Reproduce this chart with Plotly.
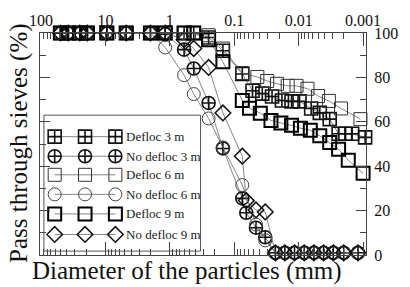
import plotly.graph_objects as go

# ---------------- data ----------------
sieve = [50, 37.5, 25, 19, 9.5, 4.75, 2.0, 1.18, 0.6, 0.425, 0.25, 0.15, 0.075]

defloc3_d = sieve + [0.052, 0.0367, 0.0259, 0.0182, 0.0129, 0.0097, 0.0064, 0.0047,
                     0.0033, 0.0024, 0.0019, 0.00148, 0.00093]
defloc3_p = [100, 100, 100, 100, 100, 100, 100, 100, 100, 100, 98, 92, 81.5,
             74, 72.7, 71.4, 69.6, 69.2, 69.2, 66, 64, 61.2, 54.6, 54.6, 54.6, 53]

nodefloc3_d = sieve + [0.065, 0.046, 0.033, 0.023, 0.0164, 0.0116, 0.0082, 0.0058,
                       0.0041, 0.0029, 0.0020, 0.0012]
nodefloc3_p = [100, 100, 100, 100, 100, 100, 100, 99.5, 92.5, 84, 68.5, 48, 25.5,
               19, 12.3, 8, 1, 1, 1, 1, 1, 1, 1, 1, 1]

defloc6_d = sieve + [0.0438, 0.0308, 0.0217, 0.0148, 0.0108, 0.0073, 0.0050, 0.0034,
                     0.0022, 0.0011]
defloc6_p = [100, 100, 100, 100, 100, 100, 100, 100, 100, 100, 99, 93, 82,
             80.2, 78.4, 77.1, 76.2, 76.2, 74.9, 71.6, 69.4, 66, 61.2]

nodefloc6_d = sieve + [0.046, 0.033, 0.023, 0.0164, 0.0116, 0.0082, 0.0058,
                       0.0041, 0.0029, 0.0020, 0.0012]
nodefloc6_p = [100, 100, 100, 100, 100, 100, 100, 93.5, 81, 72.5, 61.5, 48.5, 31.5,
               13.7, 6.6, 1, 1, 1, 1, 1, 1, 1, 1, 1]

defloc9_d = sieve + [0.058, 0.0394, 0.0269, 0.0189, 0.0129, 0.0094, 0.0066, 0.0047,
                     0.0033, 0.0024, 0.0017, 0.0010]
defloc9_p = [100, 100, 100, 100, 100, 100, 100, 100, 100, 100, 97, 87, 69.6,
             66.1, 63.9, 60.6, 59.5, 58.4, 57.1, 56.2, 53.7, 50.7, 47.6, 42.7, 36.8]

nodefloc9_d = sieve + [0.065, 0.046, 0.033, 0.023, 0.0164, 0.0116, 0.0082, 0.0058,
                       0.0041, 0.0029, 0.0020, 0.0012]
nodefloc9_p = [100, 100, 100, 100, 100, 100, 100, 100, 97, 93, 84.5, 64, 44.5,
               24.5, 20.3, 19.4, 1, 1, 1, 1, 1, 1, 1, 1, 1]

series_names = ["Defloc 3 m", "No defloc 3 m", "Defloc 6 m",
                "No defloc 6 m", "Defloc 9 m", "No defloc 9 m"]
x_ticks = [100, 10, 1, 0.1, 0.01, 0.001]
x_ticktext = ["100", "10", "1", "0.1", "0.01", "0.001"]

# ---------------- styles ----------------
FONT = "Times New Roman, Liberation Serif, DejaVu Serif, serif"
styles = [
    dict(symbol="square-cross-open", size=13, color="#111", width=1.6),
    dict(symbol="circle-cross-open", size=13, color="#111", width=1.6),
    dict(symbol="square-open", size=13, color="#333", width=1.0),
    dict(symbol="circle-open", size=13, color="#444", width=1.0),
    dict(symbol="square-open", size=13, color="#000", width=2.0),
    dict(symbol="diamond-open", size=12, color="#111", width=1.5),
]
datasets = [(defloc3_d, defloc3_p), (nodefloc3_d, nodefloc3_p),
            (defloc6_d, defloc6_p), (nodefloc6_d, nodefloc6_p),
            (defloc9_d, defloc9_p), (nodefloc9_d, nodefloc9_p)]

fig = go.Figure()
for name, (d, p), st in zip(series_names, datasets, styles):
    fig.add_trace(go.Scatter(
        x=d, y=p, name=name, mode="lines+markers", cliponaxis=False,
        line=dict(color="#666", width=0.8),
        marker=dict(symbol=st["symbol"], size=st["size"], color=st["color"],
                    line=dict(color=st["color"], width=st["width"])),
        showlegend=False))

# ---------------- custom legend (pixel-like overlay axes) ----------------
L, R, T, B = 40, 373, 28, 255
row_y = [134, 154, 173, 193, 213, 234]
sample_x = [55, 86, 117]
for name, st, ry in zip(series_names, styles, row_y):
    fig.add_trace(go.Scatter(
        x=sample_x, y=[ry] * 3, xaxis="x2", yaxis="y2", mode="lines+markers",
        cliponaxis=False, showlegend=False, hoverinfo="skip",
        line=dict(color="#666", width=0.8),
        marker=dict(symbol=st["symbol"], size=st["size"], color=st["color"],
                    line=dict(color=st["color"], width=st["width"]))))
    fig.add_annotation(x=126, y=ry, xref="x2", yref="y2", text=name,
                       showarrow=False, xanchor="left", yanchor="middle",
                       font=dict(family=FONT, size=13, color="#222"))

fig.add_shape(type="rect", xref="x2", yref="y2", x0=44, x1=204, y0=112, y1=251,
              line=dict(color="#555", width=1), fillcolor="white", layer="below")

minor_x = [m * 10 ** e for e in range(-4, 3) for m in range(2, 10)]

axis_col = "#444"
fig.update_layout(
    width=410, height=287,
    margin=dict(l=L, r=410 - R, t=T, b=287 - B),
    paper_bgcolor="white", plot_bgcolor="white",
    font=dict(family=FONT, color="#111"),
    xaxis=dict(type="log", range=[2.015, -3.045], side="top",
               tickmode="array", tickvals=x_ticks, ticktext=x_ticktext,
               ticks="inside", ticklen=13, tickwidth=1, tickcolor=axis_col,
               showline=True, linecolor=axis_col, linewidth=1, mirror="allticks",
               showgrid=False, zeroline=False,
               tickfont=dict(family=FONT, size=16, color="#111"),
               minor=dict(tickmode="array", tickvals=minor_x, ticks="inside",
                          ticklen=6, tickcolor=axis_col, showgrid=False)),
    yaxis=dict(range=[0, 100], side="right", tickmode="linear", tick0=0, dtick=20,
               ticks="inside", ticklen=10, tickwidth=1, tickcolor=axis_col,
               showline=True, linecolor=axis_col, linewidth=1, mirror="allticks",
               showgrid=False, zeroline=False, ticklabelstandoff=4,
               tickfont=dict(family=FONT, size=16, color="#111"),
               minor=dict(dtick=10, ticks="inside", ticklen=6, tickcolor=axis_col,
                          showgrid=False)),
    xaxis2=dict(range=[L, R], overlaying="x", visible=False, anchor="y2"),
    yaxis2=dict(range=[B, T], overlaying="y", visible=False, anchor="x2"),
)

def px(xp):
    return (xp - L) / (R - L)

def py(yp):
    return (B - yp) / (B - T)

fig.add_annotation(x=px(190), y=py(271), xref="paper", yref="paper",
                   text="Diameter of the particles (mm)", showarrow=False,
                   xanchor="center", yanchor="middle",
                   font=dict(family=FONT, size=25, color="#111"))
fig.add_annotation(x=px(18), y=py(140), xref="paper", yref="paper",
                   text="Pass through sieves (%)", showarrow=False, textangle=-90,
                   xanchor="center", yanchor="middle",
                   font=dict(family=FONT, size=25, color="#111"))

fig.write_html("out.html")
